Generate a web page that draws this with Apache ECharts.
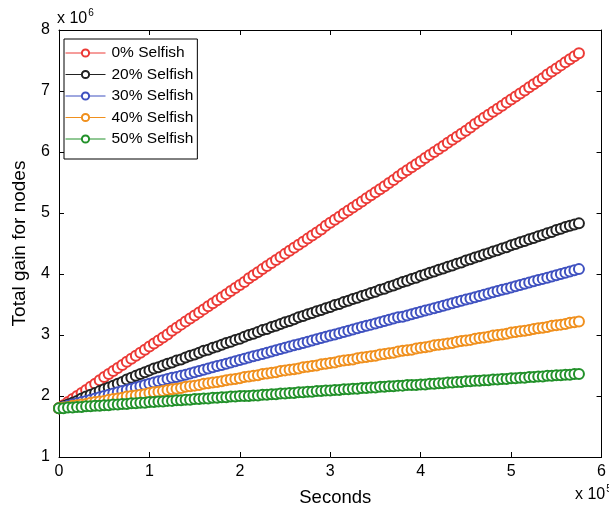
<!DOCTYPE html>
<html>
<head>
<meta charset="utf-8">
<script src="https://cdn.jsdelivr.net/npm/echarts@6/dist/echarts.min.js"></script>
<style>html,body{margin:0;padding:0;background:#fff;}#c{width:609px;height:512px;}</style>
</head>
<body>
<div id="c"></div>
<script>
// x values in units of 1e5 seconds
var seconds = [0,0.05,0.1,0.15,0.2,0.25,0.3,0.35,0.4,0.45,0.5,0.55,0.6,0.65,0.7,0.75,0.8,0.85,0.9,0.95,
1.0,1.05,1.1,1.15,1.2,1.25,1.3,1.35,1.4,1.45,1.5,1.55,1.6,1.65,1.7,1.75,1.8,1.85,1.9,1.95,
2.0,2.05,2.1,2.15,2.2,2.25,2.3,2.35,2.4,2.45,2.5,2.55,2.6,2.65,2.7,2.75,2.8,2.85,2.9,2.95,
3.0,3.05,3.1,3.15,3.2,3.25,3.3,3.35,3.4,3.45,3.5,3.55,3.6,3.65,3.7,3.75,3.8,3.85,3.9,3.95,
4.0,4.05,4.1,4.15,4.2,4.25,4.3,4.35,4.4,4.45,4.5,4.55,4.6,4.65,4.7,4.75,4.8,4.85,4.9,4.95,
5.0,5.05,5.1,5.15,5.2,5.25,5.3,5.35,5.4,5.45,5.5,5.55,5.6,5.65,5.7,5.75];
// values in units of 1e6
var selfish0 = [1.80,1.85,1.90,1.95,2.00,2.05,2.10,2.15,2.20,2.26,2.31,2.36,2.41,2.46,2.51,2.56,2.61,2.66,2.71,2.76,
2.81,2.86,2.91,2.96,3.01,3.07,3.12,3.17,3.22,3.27,3.32,3.37,3.42,3.47,3.52,3.57,3.62,3.67,3.72,3.77,
3.82,3.87,3.93,3.98,4.03,4.08,4.13,4.18,4.23,4.28,4.33,4.38,4.43,4.48,4.53,4.58,4.63,4.68,4.73,4.79,
4.84,4.89,4.94,4.99,5.04,5.09,5.14,5.19,5.24,5.29,5.34,5.39,5.44,5.49,5.54,5.60,5.65,5.70,5.75,5.80,
5.85,5.90,5.95,6.00,6.05,6.10,6.15,6.20,6.25,6.30,6.35,6.40,6.46,6.51,6.56,6.61,6.66,6.71,6.76,6.81,
6.86,6.91,6.96,7.01,7.06,7.11,7.16,7.21,7.27,7.32,7.37,7.42,7.47,7.52,7.57,7.62];
var selfish20 = [1.80,1.83,1.86,1.89,1.92,1.96,1.99,2.02,2.05,2.08,2.11,2.14,2.17,2.20,2.23,2.27,2.30,2.33,2.36,2.39,
2.42,2.45,2.47,2.50,2.53,2.55,2.58,2.60,2.63,2.66,2.68,2.71,2.74,2.76,2.79,2.81,2.84,2.87,2.89,2.92,
2.94,2.97,3.00,3.02,3.05,3.08,3.10,3.13,3.15,3.18,3.21,3.23,3.26,3.29,3.31,3.34,3.36,3.39,3.41,3.44,
3.46,3.49,3.51,3.54,3.56,3.59,3.61,3.64,3.66,3.69,3.71,3.74,3.76,3.79,3.81,3.84,3.87,3.89,3.92,3.94,
3.97,3.99,4.02,4.04,4.07,4.09,4.12,4.14,4.17,4.19,4.22,4.24,4.27,4.29,4.32,4.34,4.37,4.39,4.42,4.44,
4.47,4.49,4.52,4.54,4.57,4.59,4.62,4.64,4.67,4.69,4.72,4.74,4.77,4.79,4.81,4.83];
var selfish30 = [1.80,1.82,1.84,1.86,1.88,1.90,1.92,1.94,1.96,1.98,2.00,2.02,2.04,2.06,2.08,2.10,2.12,2.14,2.16,2.18,
2.20,2.22,2.24,2.26,2.28,2.30,2.31,2.33,2.35,2.37,2.39,2.41,2.43,2.45,2.47,2.49,2.51,2.53,2.55,2.57,
2.59,2.61,2.63,2.65,2.67,2.69,2.71,2.73,2.75,2.77,2.79,2.81,2.83,2.85,2.87,2.89,2.91,2.93,2.95,2.97,
2.99,3.01,3.03,3.05,3.07,3.09,3.11,3.13,3.15,3.17,3.19,3.21,3.23,3.25,3.27,3.29,3.30,3.32,3.34,3.36,
3.38,3.40,3.42,3.44,3.46,3.48,3.50,3.52,3.54,3.56,3.58,3.60,3.62,3.64,3.66,3.68,3.70,3.72,3.74,3.76,
3.78,3.80,3.82,3.84,3.86,3.88,3.90,3.92,3.94,3.96,3.98,4.00,4.02,4.04,4.06,4.08];
var selfish40 = [1.80,1.81,1.82,1.84,1.85,1.86,1.87,1.89,1.90,1.91,1.92,1.94,1.95,1.96,1.97,1.99,2.00,2.01,2.02,2.03,
2.05,2.06,2.07,2.08,2.10,2.11,2.12,2.13,2.15,2.16,2.17,2.18,2.20,2.21,2.22,2.23,2.24,2.26,2.27,2.28,
2.29,2.31,2.32,2.33,2.34,2.36,2.37,2.38,2.39,2.41,2.42,2.43,2.44,2.45,2.47,2.48,2.49,2.50,2.52,2.53,
2.54,2.55,2.57,2.58,2.59,2.60,2.62,2.63,2.64,2.65,2.66,2.68,2.69,2.70,2.71,2.73,2.74,2.75,2.76,2.78,
2.79,2.80,2.81,2.83,2.84,2.85,2.86,2.87,2.89,2.90,2.91,2.92,2.94,2.95,2.96,2.97,2.99,3.00,3.01,3.02,
3.04,3.05,3.06,3.07,3.08,3.10,3.11,3.12,3.13,3.15,3.16,3.17,3.18,3.20,3.21,3.22];
var selfish50 = [1.80,1.80,1.81,1.81,1.82,1.82,1.83,1.83,1.84,1.84,1.85,1.85,1.86,1.86,1.87,1.87,1.88,1.88,1.89,1.89,
1.90,1.90,1.91,1.91,1.92,1.92,1.93,1.93,1.94,1.94,1.95,1.95,1.96,1.96,1.97,1.97,1.98,1.98,1.99,1.99,
2.00,2.00,2.00,2.01,2.01,2.02,2.02,2.03,2.03,2.04,2.04,2.05,2.05,2.06,2.06,2.07,2.07,2.08,2.08,2.09,
2.09,2.10,2.10,2.11,2.11,2.12,2.12,2.13,2.13,2.14,2.14,2.15,2.15,2.16,2.16,2.17,2.17,2.18,2.18,2.18,
2.19,2.19,2.20,2.20,2.21,2.21,2.22,2.22,2.23,2.23,2.24,2.24,2.25,2.25,2.26,2.26,2.27,2.27,2.28,2.28,
2.29,2.29,2.30,2.30,2.31,2.31,2.32,2.32,2.33,2.33,2.34,2.34,2.35,2.35,2.36,2.36];

var seriesNames = ['0% Selfish','20% Selfish','30% Selfish','40% Selfish','50% Selfish'];
var seriesValues = [selfish0, selfish20, selfish30, selfish40, selfish50];
var colors = ['#ec3a36','#222222','#3f51c0','#f0901e','#22912a'];

var FONT = 'Liberation Sans, Arial, Helvetica, sans-serif';

function pairs(ys){ return seconds.map(function(x,i){ return [x, ys[i]]; }); }

var chart = echarts.init(document.getElementById('c'), null, {renderer:'canvas'});
var axisCommon = {
  axisLine:{show:true, onZero:false, lineStyle:{color:'#000', width:1}},
  axisTick:{show:true, inside:true, length:5, lineStyle:{color:'#000'}},
  splitLine:{show:false}
};
chart.setOption({
  animation:false,
  backgroundColor:'#fff',
  color: colors,
  grid:{left:59, right:4, top:30, bottom:54, show:false},
  legend:{
    orient:'vertical', left:64, top:39,
    data: seriesNames,
    backgroundColor:'#fff', borderColor:'#000', borderWidth:1,
    padding:[6,4,12,1], itemGap:5.5, itemWidth:40, itemHeight:9,
    lineStyle:{width:1}, itemStyle:{borderWidth:1},
    textStyle:{fontFamily:FONT, fontSize:15.5, color:'#000', padding:[0,0,0,1]}
  },
  xAxis:[
    Object.assign({type:'value', min:0, max:6, interval:1, position:'bottom',
      name:'Seconds', nameLocation:'middle', nameGap:31,
      nameTextStyle:{fontFamily:FONT, fontSize:18.5, color:'#000', padding:[0,0,0,10]},
      axisLabel:{fontFamily:FONT, fontSize:16, color:'#000', margin:7}}, axisCommon),
    Object.assign({type:'value', min:0, max:6, interval:1, position:'top',
      axisLabel:{show:false}}, axisCommon)
  ],
  yAxis:[
    Object.assign({type:'value', min:1, max:8, interval:1, position:'left',
      name:'Total gain for nodes', nameLocation:'middle', nameGap:30,
      nameTextStyle:{fontFamily:FONT, fontSize:19, color:'#000'},
      axisLabel:{fontFamily:FONT, fontSize:16, color:'#000', margin:9}}, axisCommon),
    Object.assign({type:'value', min:1, max:8, interval:1, position:'right',
      axisLabel:{show:false}}, axisCommon)
  ],
  graphic:[
    {type:'text', left:57, top:8, style:{
      text:'{a|x 10}{s|6}', fontFamily:FONT,
      rich:{a:{fontSize:16, fontFamily:FONT, fill:'#000', verticalAlign:'bottom'},
            s:{fontSize:10, fontFamily:FONT, fill:'#000', verticalAlign:'top', padding:[0,0,9,1]}}}},
    {type:'text', left:575, top:484, style:{
      text:'{a|x 10}{s|5}', fontFamily:FONT,
      rich:{a:{fontSize:16, fontFamily:FONT, fill:'#000', verticalAlign:'bottom'},
            s:{fontSize:10, fontFamily:FONT, fill:'#000', verticalAlign:'top', padding:[0,0,9,1]}}}}
  ],
  series: seriesNames.map(function(n,k){
    return {
      name:n, type:'line', xAxisIndex:0, yAxisIndex:0,
      data: pairs(seriesValues[k]),
      symbol:'emptyCircle', symbolSize:10, showSymbol:true,
      lineStyle:{width:1, color:colors[k]},
      itemStyle:{color:colors[k], borderColor:colors[k], borderWidth:0.9},
      emphasis:{disabled:true}
    };
  })
});
</script>
</body>
</html>
